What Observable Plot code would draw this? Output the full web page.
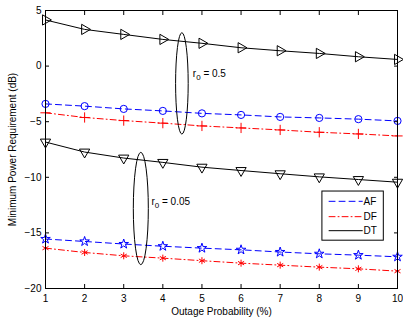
<!DOCTYPE html>
<html><head><meta charset="utf-8">
<script src="https://cdn.jsdelivr.net/npm/d3@7"></script>
<script src="https://cdn.jsdelivr.net/npm/@observablehq/plot@0.6"></script>
<style>
body{margin:0;background:#fff;}
svg{font-family:"Liberation Sans",Arial,Helvetica,sans-serif;}
</style>
</head><body><div id="chart"></div>
<script>
// Outage probability (%)
const outage = [1,2,3,4,5,6,7,8,9,10];
// r0 = 0.5
const dtHigh = [4.15,3.3,2.85,2.4,2.05,1.65,1.38,1.14,0.84,0.6];
const afHigh = [-3.4,-3.6,-3.85,-4.03,-4.25,-4.39,-4.57,-4.66,-4.77,-4.93];
const dfHigh = [-4.2,-4.62,-4.9,-5.13,-5.38,-5.56,-5.74,-5.95,-6.1,-6.28];
// r0 = 0.05
const dtLow = [-6.83,-7.73,-8.27,-8.66,-9.09,-9.39,-9.68,-9.96,-10.2,-10.44];
const afLow = [-15.55,-15.77,-16.0,-16.2,-16.37,-16.52,-16.72,-16.88,-17.0,-17.15];
const dfLow = [-16.37,-16.76,-17.06,-17.27,-17.5,-17.72,-17.9,-18.08,-18.23,-18.44];

const xTicks = [1,2,3,4,5,6,7,8,9,10];
const yTicks = [-20,-15,-10,-5,0,5];
const xTitle = "Outage Probability (%)";
const yTitle = "Minimum Power Requirement (dB)";

// annotations: ellipses (center in data units, vertical radius in data units)
const ellipseCx = [4.5, 3.45];
const ellipseCy = [-1.6, -12.85];
const ellipseRy = [4.56, 5.05];
const annotLabelX = [4.78, 3.72];
const annotLabelY = [-1.0, -12.55];
const annotValue = ["0.5", "0.05"];

// legend
const legendNames = ["AF","DF","DT"];
const legendColors = ["#0000ff","#ff0000","#000000"];
const legendDash = ["6,4","6,3,1,3","none"];
const legendRowY = [-12.16,-13.54,-14.8];
const legendBox = {x1: 8.08, x2: 9.65, y1: -11.28, y2: -15.7};

const mk = (ys) => outage.map((x,i)=>({x, y: ys[i]}));

const series = [
  {data: mk(dtHigh), color:"#000", dash:null, symbol:"triangle", rotate:90, r:3.8},
  {data: mk(afHigh), color:"#0000ff", dash:"6,4", symbol:"circle", rotate:0, r:3.6},
  {data: mk(dfHigh), color:"#ff0000", dash:"6,3,1,3", symbol:"plus", rotate:0, r:3.4},
  {data: mk(dtLow), color:"#000", dash:null, symbol:"triangle", rotate:180, r:3.8},
  {data: mk(afLow), color:"#0000ff", dash:"6,4", symbol:"star", rotate:0, r:3.0},
  {data: mk(dfLow), color:"#ff0000", dash:"6,3,1,3", symbol:"asterisk", rotate:0, r:3.3}
];

const marks = [];
series.forEach(s => {
  marks.push(Plot.line(s.data, {x:"x", y:"y", stroke:s.color, strokeWidth:1, strokeDasharray:s.dash || undefined}));
  marks.push(Plot.dot(s.data, {x:"x", y:"y", stroke:s.color, fill:"none", strokeWidth:1,
    symbol:s.symbol, r:s.r, rotate:s.rotate}));
});

// ellipses + subscripted labels, positioned via the plot's scales
marks.push((index, scales) => {
  const g = d3.create("svg:g");
  ellipseCx.forEach((cx,i) => {
    const y0 = scales.y(ellipseCy[i] + ellipseRy[i]), y1 = scales.y(ellipseCy[i] - ellipseRy[i]);
    g.append("ellipse")
      .attr("cx", scales.x(cx)).attr("cy", (y0+y1)/2)
      .attr("rx", i===0 ? 6.3 : 7.5).attr("ry", Math.abs(y1-y0)/2)
      .attr("fill","none").attr("stroke","#000").attr("stroke-width",1);
    const t = g.append("text")
      .attr("x", scales.x(annotLabelX[i])).attr("y", scales.y(annotLabelY[i]))
      .attr("font-size", 10).attr("fill","#000").attr("text-anchor","start");
    t.append("tspan").text("r");
    t.append("tspan").attr("dy", 3).attr("font-size", 8).text("0");
    t.append("tspan").attr("dy", -3).text(" = " + annotValue[i]);
  });
  return g.node();
});

// legend
marks.push(Plot.rect([legendBox], {x1:"x1", x2:"x2", y1:"y1", y2:"y2", fill:"#fff", stroke:"#000", strokeWidth:1}));
legendNames.forEach((n,i) => {
  marks.push(Plot.line([{x:8.25,y:legendRowY[i]},{x:9.1,y:legendRowY[i]}], {x:"x", y:"y", stroke:legendColors[i], strokeWidth:1, strokeDasharray: legendDash[i]==="none"?undefined:legendDash[i]}));
  marks.push(Plot.text([{x:9.13,y:legendRowY[i],t:n}], {x:"x", y:"y", text:"t", textAnchor:"start", fontSize:10, fill:"#000"}));
});

marks.push(Plot.frame({stroke:"#000", strokeWidth:1}));
marks.push(Plot.axisX(xTicks, {anchor:"bottom", tickSize:-4, tickPadding:10, fontSize:10, label:null, color:"#000"}));
marks.push(Plot.axisX(xTicks, {anchor:"top", tickSize:-4, tickFormat:()=>"", label:null}));
marks.push(Plot.axisY(yTicks, {anchor:"left", tickSize:-4, tickPadding:8, fontSize:10, tickFormat: d => d < 0 ? "\u2212" + Math.abs(d) : String(d), label:null}));
marks.push(Plot.axisY(yTicks, {anchor:"right", tickSize:-4, tickFormat:()=>"", label:null}));
marks.push(Plot.text([xTitle], {frameAnchor:"bottom", dy:26, fontSize:10, fill:"#000", textAnchor:"middle"}));
marks.push(Plot.text([yTitle], {frameAnchor:"left", dx:-33, rotate:-90, fontSize:10, fill:"#000", textAnchor:"middle"}));

const chart = Plot.plot({
  width: 403, height: 322,
  marginLeft: 45, marginRight: 6, marginTop: 10, marginBottom: 34,
  x: {domain:[1,10]},
  y: {domain:[-20,5]},
  style: {fontSize:"10px", color:"#000", background:"#fff"},
  marks
});
document.getElementById("chart").appendChild(chart);
</script>
</body></html>
